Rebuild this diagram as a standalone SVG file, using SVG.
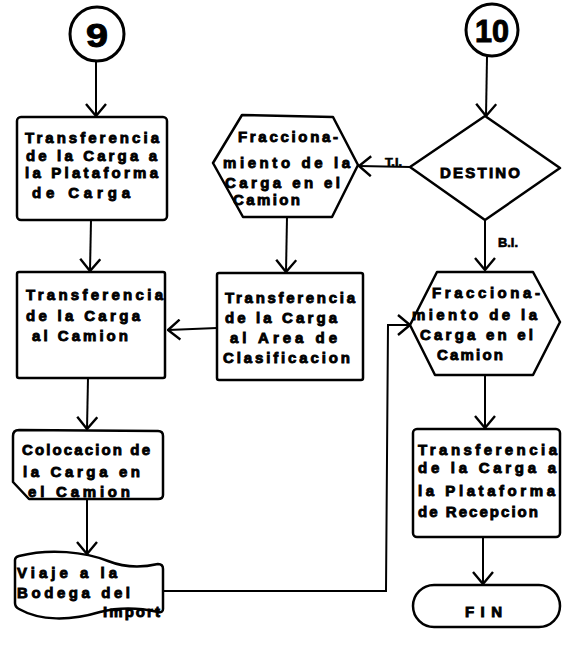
<svg xmlns="http://www.w3.org/2000/svg" width="562" height="645" viewBox="0 0 562 645">
  <style>
    .shape { fill: #ffffff; stroke: #000000; stroke-width: 2.5; stroke-linejoin: round; }
    .ring { fill: #ffffff; stroke: #000000; stroke-width: 3; }
    .link { fill: none; stroke: #000000; stroke-width: 2; }
    .lbl { font-family: "Liberation Sans", "DejaVu Sans", sans-serif; font-weight: bold; font-size: 15px; fill: #000000; stroke: #000000; stroke-width: 0.9; }
    .num { font-family: "Liberation Sans", "DejaVu Sans", sans-serif; font-weight: bold; fill: #000000; stroke: #000000; stroke-width: 1; text-anchor: middle; }
  </style>
  <defs>
    <marker id="vhead" viewBox="0 0 14 22" refX="13" refY="11" markerWidth="14" markerHeight="22" markerUnits="userSpaceOnUse" orient="auto">
      <path d="M1,1 L13,11 L1,21" fill="none" stroke="#000000" stroke-width="2.4"/>
    </marker>
  </defs>
  <rect width="562" height="645" fill="#ffffff"/>

  <!-- connectors -->
  <g id="connectors">
    <path class="link" d="M96,61 L96,116" marker-end="url(#vhead)"/>
    <path class="link" d="M91,220 L90,271" marker-end="url(#vhead)"/>
    <path class="link" d="M88,378 L87,429" marker-end="url(#vhead)"/>
    <path class="link" d="M87,500 L87,554" marker-end="url(#vhead)"/>
    <path class="link" d="M163,591 L386,591 L388,325 L410,325" marker-end="url(#vhead)"/>
    <path class="link" d="M487,57 L486,116" marker-end="url(#vhead)"/>
    <path class="link" d="M410,167 L359,166" marker-end="url(#vhead)"/>
    <path class="link" d="M485,220 L485,270" marker-end="url(#vhead)"/>
    <path class="link" d="M287,217 L286,272" marker-end="url(#vhead)"/>
    <path class="link" d="M217,328 L168,330" marker-end="url(#vhead)"/>
    <path class="link" d="M485,375 L485,428" marker-end="url(#vhead)"/>
    <path class="link" d="M483,537 L483,584" marker-end="url(#vhead)"/>
    <text class="lbl" x="385" y="166" textLength="17" lengthAdjust="spacingAndGlyphs" style="font-size:10px;stroke-width:0.5">T.I.</text>
    <text class="lbl" x="498" y="247" textLength="20" lengthAdjust="spacingAndGlyphs" style="font-size:12px;stroke-width:0.6">B.I.</text>
  </g>

  <!-- start connector 9 -->
  <g id="conn9">
    <circle class="ring" cx="97" cy="34" r="27"/>
    <text class="num" x="97" y="47" font-size="34" textLength="22" lengthAdjust="spacingAndGlyphs">9</text>
  </g>

  <!-- start connector 10 -->
  <g id="conn10">
    <circle class="ring" cx="492" cy="30" r="26"/>
    <text class="num" x="492" y="42" font-size="32" textLength="34" lengthAdjust="spacingAndGlyphs">10</text>
  </g>

  <!-- Transferencia a la Plataforma de Carga -->
  <g id="n1">
    <rect class="shape" x="17" y="117" width="150" height="103" rx="4"/>
    <text class="lbl" x="25" y="143" textLength="134" lengthAdjust="spacing">Transferencia</text>
    <text class="lbl" x="26" y="161" textLength="131" lengthAdjust="spacing">de la Carga a</text>
    <text class="lbl" x="25" y="178" textLength="133" lengthAdjust="spacing">la Plataforma</text>
    <text class="lbl" x="32" y="198" textLength="98" lengthAdjust="spacing">de  Carga</text>
  </g>

  <!-- Transferencia al Camion -->
  <g id="n2">
    <rect class="shape" x="17" y="272" width="148" height="106" rx="2"/>
    <text class="lbl" x="26" y="300" textLength="137" lengthAdjust="spacing">Transferencia</text>
    <text class="lbl" x="26" y="321" textLength="114" lengthAdjust="spacing">de la Carga</text>
    <text class="lbl" x="32" y="341" textLength="96" lengthAdjust="spacing">al Camion</text>
  </g>

  <!-- Colocacion de la Carga -->
  <g id="n3">
    <path class="shape" d="M19,430 L158,431 Q163,431 163,436 L163,495 Q163,499 158,499 L29,499 L13,482 L13,436 Q13,430 19,430 Z"/>
    <text class="lbl" x="22" y="455" textLength="128" lengthAdjust="spacing">Colocacion de</text>
    <text class="lbl" x="23" y="477" textLength="117" lengthAdjust="spacing">la Carga en</text>
    <text class="lbl" x="28" y="497" textLength="102" lengthAdjust="spacing">el Camion</text>
  </g>

  <!-- Viaje a la Bodega -->
  <g id="n4">
    <path class="shape" d="M15,560 Q15,557 19,556 C50,548 85,552 108,561 C128,569 145,567 158,564 Q163,564 163,569 L163,609 Q163,613 158,612 C140,608 120,607 100,612 C70,621 40,621 19,609 Q15,607 15,603 Z"/>
    <text class="lbl" x="17" y="578" textLength="100" lengthAdjust="spacing">Viaje a la</text>
    <text class="lbl" x="17" y="598" textLength="113" lengthAdjust="spacing">Bodega del</text>
    <text class="lbl" x="103" y="617" textLength="57" lengthAdjust="spacing">Import</text>
  </g>

  <!-- Fraccionamiento (T.I.) -->
  <g id="n5">
    <path class="shape" d="M242,115 L333,117 L358,165 L332,217 L243,217 L213,163 Z"/>
    <text class="lbl" x="238" y="142" textLength="100" lengthAdjust="spacing">Fracciona-</text>
    <text class="lbl" x="223" y="168" textLength="127" lengthAdjust="spacing">miento de la</text>
    <text class="lbl" x="225" y="188" textLength="115" lengthAdjust="spacing">Carga en el</text>
    <text class="lbl" x="233" y="205" textLength="67" lengthAdjust="spacing">Camion</text>
  </g>

  <!-- Transferencia al Area de Clasificacion -->
  <g id="n6">
    <rect class="shape" x="217" y="273" width="146" height="107" rx="2"/>
    <text class="lbl" x="225" y="303" textLength="130" lengthAdjust="spacing">Transferencia</text>
    <text class="lbl" x="225" y="323" textLength="112" lengthAdjust="spacing">de la Carga</text>
    <text class="lbl" x="230" y="343" textLength="107" lengthAdjust="spacing">al Area de</text>
    <text class="lbl" x="223" y="363" textLength="127" lengthAdjust="spacing">Clasificacion</text>
  </g>

  <!-- DESTINO decision -->
  <g id="n7">
    <path class="shape" d="M485,116 L560,168 L485,220 L410,167 Z"/>
    <text class="lbl" x="440" y="178" textLength="80" lengthAdjust="spacing">DESTINO</text>
  </g>

  <!-- Fraccionamiento (B.I.) -->
  <g id="n8">
    <path class="shape" d="M437,272 L533,272 L560,322 L533,375 L435,375 L410,325 Z"/>
    <text class="lbl" x="432" y="298" textLength="108" lengthAdjust="spacing">Fracciona-</text>
    <text class="lbl" x="412" y="320" textLength="125" lengthAdjust="spacing">miento de la</text>
    <text class="lbl" x="420" y="340" textLength="113" lengthAdjust="spacing">Carga en el</text>
    <text class="lbl" x="437" y="360" textLength="66" lengthAdjust="spacing">Camion</text>
  </g>

  <!-- Transferencia a la Plataforma de Recepcion -->
  <g id="n9">
    <rect class="shape" x="413" y="429" width="147" height="108" rx="4"/>
    <text class="lbl" x="418" y="455" textLength="139" lengthAdjust="spacing">Transferencia</text>
    <text class="lbl" x="418" y="473" textLength="138" lengthAdjust="spacing">de la Carga a</text>
    <text class="lbl" x="418" y="496" textLength="137" lengthAdjust="spacing">la Plataforma</text>
    <text class="lbl" x="418" y="517" textLength="120" lengthAdjust="spacing">de Recepcion</text>
  </g>

  <!-- FIN terminator -->
  <g id="n10">
    <rect class="shape" x="413" y="585" width="147" height="42" rx="21"/>
    <text class="lbl" x="465" y="617" textLength="37" lengthAdjust="spacing">FIN</text>
  </g>
</svg>
